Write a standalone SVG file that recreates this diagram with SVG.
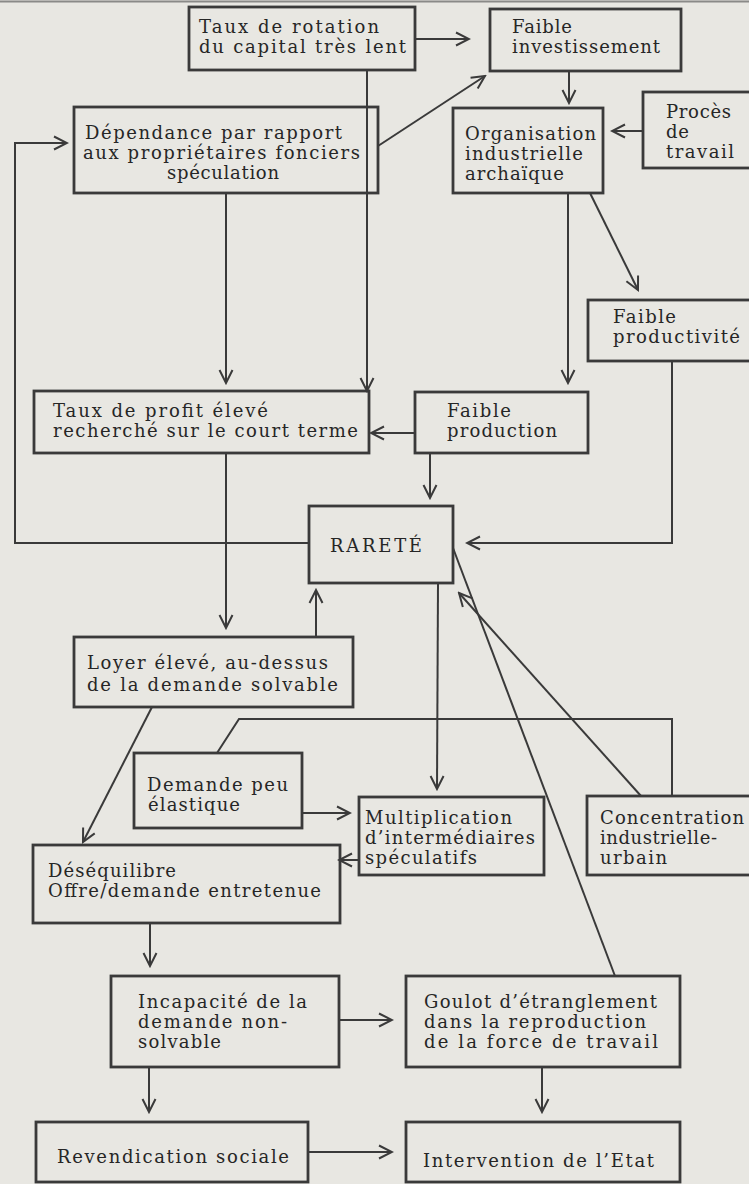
<svg xmlns="http://www.w3.org/2000/svg" width="749" height="1184" viewBox="0 0 749 1184">
<defs>
<marker id="arr" viewBox="0 0 16 16" refX="14" refY="8" markerWidth="16" markerHeight="16" markerUnits="userSpaceOnUse" orient="auto">
<path d="M1,1.5 L14,8 L1,14.5" fill="none" stroke="#3a3a3a" stroke-width="2"/>
</marker>
</defs>
<style>
.bg{fill:#e8e7e2}
.box{fill:none;stroke:#3a3a3a;stroke-width:2.8}
.t{font-family:"DejaVu Serif","Liberation Serif",serif;font-size:18px;fill:#262626}
.c{fill:none;stroke:#3a3a3a;stroke-width:2}
.a{marker-end:url(#arr)}
</style>
<rect class="bg" x="0" y="0" width="749" height="1184"/>
<line x1="0" y1="1.5" x2="749" y2="1.5" stroke="#8a8a88" stroke-width="2"/>

<g id="n-rotation">
<rect class="box" x="189" y="7" width="226" height="63"/>
<text class="t" x="199" y="33" textLength="180" lengthAdjust="spacing">Taux de rotation</text>
<text class="t" x="199" y="53" textLength="207" lengthAdjust="spacing">du capital très lent</text>
</g>
<g id="n-investissement">
<rect class="box" x="490" y="9" width="191" height="62"/>
<text class="t" x="512" y="33" textLength="60" lengthAdjust="spacing">Faible</text>
<text class="t" x="512" y="53" textLength="148" lengthAdjust="spacing">investissement</text>
</g>
<g id="n-dependance">
<rect class="box" x="74" y="107" width="304" height="86"/>
<text class="t" x="85" y="139" textLength="257" lengthAdjust="spacing">Dépendance par rapport</text>
<text class="t" x="83" y="159" textLength="277" lengthAdjust="spacing">aux propriétaires fonciers</text>
<text class="t" x="167" y="179" textLength="112" lengthAdjust="spacing">spéculation</text>
</g>
<g id="n-organisation">
<rect class="box" x="453" y="108" width="150" height="85"/>
<text class="t" x="465" y="140" textLength="131" lengthAdjust="spacing">Organisation</text>
<text class="t" x="465" y="160" textLength="118" lengthAdjust="spacing">industrielle</text>
<text class="t" x="465" y="180" textLength="99" lengthAdjust="spacing">archaïque</text>
</g>
<g id="n-proces">
<rect class="box" x="643" y="92" width="130" height="76"/>
<text class="t" x="666" y="118" textLength="65" lengthAdjust="spacing">Procès</text>
<text class="t" x="666" y="138" textLength="23" lengthAdjust="spacing">de</text>
<text class="t" x="666" y="158" textLength="68" lengthAdjust="spacing">travail</text>
</g>
<g id="n-productivite">
<rect class="box" x="588" y="300" width="185" height="61"/>
<text class="t" x="613" y="323" textLength="63" lengthAdjust="spacing">Faible</text>
<text class="t" x="613" y="343" textLength="127" lengthAdjust="spacing">productivité</text>
</g>
<g id="n-profit">
<rect class="box" x="34" y="391" width="335" height="62"/>
<text class="t" x="53" y="417" textLength="215" lengthAdjust="spacing">Taux de profit élevé</text>
<text class="t" x="53" y="437" textLength="305" lengthAdjust="spacing">recherché sur le court terme</text>
</g>
<g id="n-production">
<rect class="box" x="415" y="392" width="173" height="61"/>
<text class="t" x="447" y="417" textLength="64" lengthAdjust="spacing">Faible</text>
<text class="t" x="447" y="437" textLength="110" lengthAdjust="spacing">production</text>
</g>
<g id="n-rarete">
<rect class="box" x="309" y="506" width="144" height="77"/>
<text class="t" x="330" y="552" textLength="92" lengthAdjust="spacing">RARETÉ</text>
</g>
<g id="n-loyer">
<rect class="box" x="74" y="637" width="279" height="70"/>
<text class="t" x="87" y="669" textLength="241" lengthAdjust="spacing">Loyer élevé, au-dessus</text>
<text class="t" x="87" y="691" textLength="251" lengthAdjust="spacing">de la demande solvable</text>
</g>
<g id="n-demande">
<rect class="box" x="134" y="753" width="168" height="75"/>
<text class="t" x="147" y="791" textLength="141" lengthAdjust="spacing">Demande peu</text>
<text class="t" x="148" y="811" textLength="92" lengthAdjust="spacing">élastique</text>
</g>
<g id="n-multiplication">
<rect class="box" x="359" y="797" width="185" height="78"/>
<text class="t" x="365" y="824" textLength="147" lengthAdjust="spacing">Multiplication</text>
<text class="t" x="365" y="844" textLength="170" lengthAdjust="spacing">d’intermédiaires</text>
<text class="t" x="365" y="864" textLength="112" lengthAdjust="spacing">spéculatifs</text>
</g>
<g id="n-concentration">
<rect class="box" x="587" y="796" width="190" height="79"/>
<text class="t" x="600" y="824" textLength="144" lengthAdjust="spacing">Concentration</text>
<text class="t" x="600" y="844" textLength="117" lengthAdjust="spacing">industrielle-</text>
<text class="t" x="600" y="864" textLength="67" lengthAdjust="spacing">urbain</text>
</g>
<g id="n-desequilibre">
<rect class="box" x="33" y="845" width="307" height="78"/>
<text class="t" x="48" y="877" textLength="128" lengthAdjust="spacing">Déséquilibre</text>
<text class="t" x="48" y="897" textLength="273" lengthAdjust="spacing">Offre/demande entretenue</text>
</g>
<g id="n-incapacite">
<rect class="box" x="111" y="976" width="228" height="91"/>
<text class="t" x="138" y="1008" textLength="169" lengthAdjust="spacing">Incapacité de la</text>
<text class="t" x="138" y="1028" textLength="149" lengthAdjust="spacing">demande non-</text>
<text class="t" x="138" y="1048" textLength="83" lengthAdjust="spacing">solvable</text>
</g>
<g id="n-goulot">
<rect class="box" x="406" y="976" width="274" height="91"/>
<text class="t" x="424" y="1008" textLength="233" lengthAdjust="spacing">Goulot d’étranglement</text>
<text class="t" x="424" y="1028" textLength="222" lengthAdjust="spacing">dans la reproduction</text>
<text class="t" x="424" y="1048" textLength="234" lengthAdjust="spacing">de la force de travail</text>
</g>
<g id="n-revendication">
<rect class="box" x="36" y="1122" width="272" height="60"/>
<text class="t" x="57" y="1163" textLength="232" lengthAdjust="spacing">Revendication sociale</text>
</g>
<g id="n-intervention">
<rect class="box" x="406" y="1122" width="274" height="60"/>
<text class="t" x="423" y="1167" textLength="231" lengthAdjust="spacing">Intervention de l’Etat</text>
</g>

<g id="connectors">
<path class="c a" d="M415,39 L469,39"/>
<path class="c a" d="M569,71 L569,103"/>
<path class="c a" d="M643,131 L612,131"/>
<path class="c a" d="M378,146 L485,76"/>
<path class="c a" d="M367,70 L367,391"/>
<path class="c a" d="M226,193 L226,383"/>
<path class="c a" d="M568,193 L568,383"/>
<path class="c a" d="M590,193 L638,290"/>
<path class="c a" d="M415,433 L371,433"/>
<path class="c a" d="M430,453 L430,498"/>
<path class="c a" d="M672,361 L672,543 L467,543"/>
<path class="c a" d="M309,543 L15,543 L15,143 L67,143"/>
<path class="c a" d="M226,453 L226,628"/>
<path class="c a" d="M316,637 L316,590"/>
<path class="c a" d="M438,583 L437,789"/>
<path class="c" d="M672,796 L672,719 L239,719 L217,753"/>
<path class="c a" d="M152,707 L83,842"/>
<path class="c a" d="M302,813 L350,813"/>
<path class="c a" d="M359,860 L339,860"/>
<path class="c a" d="M150,923 L150,966"/>
<path class="c a" d="M339,1020 L392,1020"/>
<path class="c a" d="M149,1067 L149,1112"/>
<path class="c a" d="M308,1152 L392,1152"/>
<path class="c a" d="M542,1067 L542,1112"/>
<path class="c" d="M615,976 L453,548"/>
<path class="c a" d="M641,796 L459,593"/>
</g>
</svg>
